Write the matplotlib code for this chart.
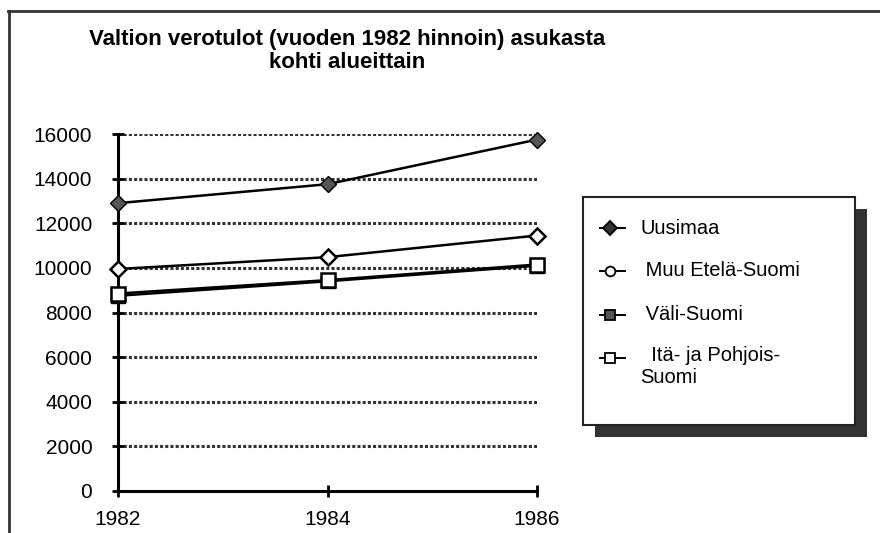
import numpy as np
import matplotlib
matplotlib.use("Agg")
import matplotlib.pyplot as plt
from matplotlib.lines import Line2D
from matplotlib.patches import Rectangle

plt.rcParams['font.family'] = ['Liberation Sans', 'DejaVu Sans']

# data
years = [1982, 1984, 1986]
uusimaa = [12900, 13750, 15750]
muu_etela = [9950, 10480, 11450]
vali = [8750, 9400, 10100]
ita_pohjois = [8850, 9450, 10150]

labels = ["Uusimaa", " Muu Etelä-Suomi", " Väli-Suomi", "  Itä- ja Pohjois-\nSuomi"]
yticks = [0, 2000, 4000, 6000, 8000, 10000, 12000, 14000, 16000]

W, H = 880, 533
fig = plt.figure(figsize=(8.8, 5.33), dpi=100)
fig.patch.set_facecolor("white")

# scan frame (top and left edge)
fig.add_artist(Line2D([8 / W, 1], [1 - 11 / H] * 2, color="#333333", lw=2))
fig.add_artist(Line2D([9 / W] * 2, [0, 1 - 11 / H], color="#333333", lw=2))

fig.text(347 / W, 1 - 51 / H, "Valtion verotulot (vuoden 1982 hinnoin) asukasta\nkohti alueittain",
         ha="center", va="center", fontsize=16, fontweight="bold", linespacing=1.15)

ax = fig.add_axes([118 / W, 42 / H, (537 - 118) / W, (491 - 134) / H])
ax.set_xlim(1982, 1986)
ax.set_ylim(0, 16000)

for y in yticks[1:]:
    ax.axhline(y, color="#333333", lw=2.2, ls=(0, (1, 0.7)), zorder=1)

ax.plot(years, vali, color="black", lw=1.8, marker="s", ms=10, mfc="#444444", mec="black", clip_on=False, zorder=3)
ax.plot(years, ita_pohjois, color="black", lw=1.8, marker="s", ms=10, mfc="white", mec="black", mew=1.8, clip_on=False, zorder=4)
ax.plot(years, muu_etela, color="black", lw=1.8, marker="D", ms=8.5, mfc="white", mec="black", mew=1.8, clip_on=False, zorder=4)
ax.plot(years, uusimaa, color="black", lw=1.8, marker="D", ms=8.5, mfc="#555555", mec="black", clip_on=False, zorder=4)

for s in ["top", "right"]:
    ax.spines[s].set_visible(False)
ax.spines["left"].set_linewidth(2.2)
ax.spines["bottom"].set_linewidth(2.2)
ax.set_xticks(years)
ax.set_yticks(yticks)
ax.tick_params(axis="both", direction="inout", length=9, width=2, labelsize=15)
ax.tick_params(axis="y", pad=14)
ax.tick_params(axis="x", pad=9)

# legend box with drop shadow
lx0, ly0, lx1, ly1 = 583, 197, 855, 425
fig.add_artist(Rectangle(((lx0 + 12) / W, 1 - (ly1 + 12) / H), (lx1 - lx0) / W, (ly1 - ly0) / H,
                         transform=fig.transFigure, facecolor="#333333", edgecolor="none", zorder=5))
fig.add_artist(Rectangle((lx0 / W, 1 - ly1 / H), (lx1 - lx0) / W, (ly1 - ly0) / H,
                         transform=fig.transFigure, facecolor="white", edgecolor="#222222", lw=1.5, zorder=6))

markers = [("D", "#333333"), ("o", "white"), ("s", "#555555"), ("s", "white")]
rows = [228, 271, 315, 358]
for (m, fc), y, lab in zip(markers, rows, labels):
    yf = 1 - y / H
    fig.add_artist(Line2D([600 / W, 625 / W], [yf, yf], color="black", lw=1.4, zorder=7))
    fig.add_artist(Line2D([610 / W], [yf], marker=m, ms=7, mfc=fc, mec="black", mew=1.3, zorder=8))
    if "\n" in lab:
        fig.text(640 / W, 1 - (y - 12) / H, lab, ha="left", va="top", fontsize=14.5, zorder=8, linespacing=1.2)
    else:
        fig.text(640 / W, yf, lab, ha="left", va="center", fontsize=14.5, zorder=8)

fig.savefig("out.png", dpi=100, facecolor="white")
